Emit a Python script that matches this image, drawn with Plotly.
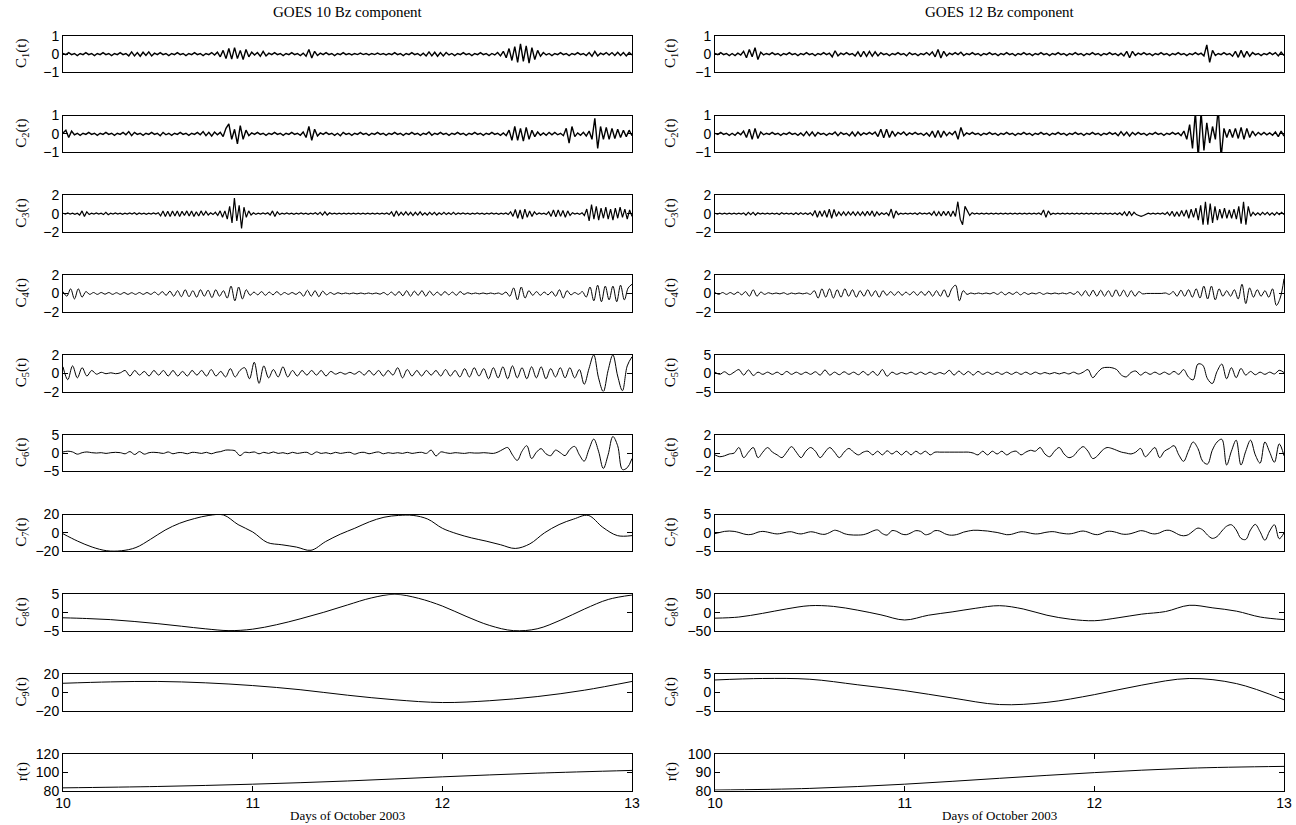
import numpy as np
import plotly.graph_objects as go

# ---------------- data ----------------
day_start, day_end = 10, 13
x_tick_vals = [10, 11, 12, 13]
col_titles = ["GOES 10 Bz component", "GOES 12 Bz component"]
x_title = "Days of October 2003"
row_labels = ["C<sub>1</sub>(t)", "C<sub>2</sub>(t)", "C<sub>3</sub>(t)", "C<sub>4</sub>(t)",
              "C<sub>5</sub>(t)", "C<sub>6</sub>(t)", "C<sub>7</sub>(t)", "C<sub>8</sub>(t)",
              "C<sub>9</sub>(t)", "r(t)"]
g10_yticks = [[-1, 0, 1], [-1, 0, 1], [-2, 0, 2], [-2, 0, 2], [-2, 0, 2],
              [-5, 0, 5], [-20, 0, 20], [-5, 0, 5], [-20, 0, 20], [80, 100, 120]]
g12_yticks = [[-1, 0, 1], [-1, 0, 1], [-2, 0, 2], [-2, 0, 2], [-5, 0, 5],
              [-2, 0, 2], [-5, 0, 5], [-50, 0, 50], [-5, 0, 5], [80, 90, 100]]

g10_c1 = [.03,-.03,.08,-.03,.03,-.08,.03,-.03,.08,-.03,
          .03,-.08,.03,-.03,.08,-.03,.03,-.08,.03,-.03,
          .08,-.03,.03,-.1,.12,-.1,.08,-.12,.1,-.08,
          .12,-.1,.05,-.03,.08,-.03,.03,-.08,.03,-.03,
          .08,-.03,.03,-.08,.03,-.03,.08,-.03,.03,-.08,
          .03,-.03,.08,-.05,.1,-.15,.2,-.25,.3,-.28,
          .35,-.25,.2,-.3,.25,-.15,.1,-.05,.08,-.12,
          .15,-.1,.05,-.03,.08,-.03,.03,-.08,.03,-.03,
          .08,-.03,.03,-.08,.05,-.12,.25,-.22,.15,-.08,
          .05,-.03,.08,-.03,.03,-.08,.03,-.03,.08,-.03,
          .03,-.05,.03,-.03,.05,-.03,.03,-.05,.03,-.03,
          .05,-.03,.03,-.05,.03,-.03,.08,-.03,.03,-.08,
          .03,-.03,.08,-.03,.03,-.08,.05,-.1,.12,-.1,
          .1,-.12,.08,-.1,.08,-.05,.03,-.08,.03,-.03,
          .08,-.03,.03,-.08,.03,-.03,.08,-.03,.03,-.08,
          .03,-.05,.08,-.1,.15,-.2,.3,-.35,.4,-.45,
          .55,-.4,.45,-.5,.35,-.3,.2,-.12,.08,-.05,
          .03,-.08,.03,-.03,.08,-.03,.03,-.08,.03,-.03,
          .08,-.03,.03,-.08,.08,-.12,.15,-.1,.05,-.03,
          .08,-.05,.08,-.08,.1,-.08,.08,-.1,.08,-.05]

g10_c2 = [.05,.2,-.2,.15,-.05,.03,-.08,.03,-.03,.08,
          -.03,.03,-.08,.03,-.03,.08,-.03,.03,-.08,.03,
          -.03,.08,-.05,.12,-.1,.08,-.03,.03,-.08,.03,
          -.03,.08,-.03,.03,-.1,.08,-.05,.03,-.08,.03,
          -.03,.08,-.03,.03,-.08,.03,-.03,.08,-.05,.12,
          -.1,.08,-.12,.1,-.05,.08,-.15,.3,.55,-.3,
          .25,-.55,.45,-.3,.2,-.1,.05,-.03,.08,-.03,
          .03,-.08,.03,-.03,.08,-.03,.03,-.08,.03,-.03,
          .08,-.03,.03,-.08,.1,-.2,.4,-.35,.25,-.12,
          .05,-.03,.08,-.03,.03,-.08,.03,-.1,.08,-.03,
          .03,-.08,.03,-.03,.08,-.03,.03,-.08,.03,-.03,
          .08,-.03,.03,-.08,.03,-.03,.08,-.03,.03,-.08,
          .03,-.03,.08,-.03,.03,-.08,.03,-.03,.1,-.08,
          .03,-.03,.08,-.03,.03,-.08,.03,-.03,.08,-.03,
          .03,-.08,.03,-.03,.08,-.03,.03,-.08,.03,-.03,
          .08,-.03,.03,-.08,.05,-.1,.2,-.35,.4,-.35,
          .3,-.4,.35,-.3,.2,-.15,.1,-.08,.05,-.08,
          .08,-.05,.08,-.05,.03,-.1,.3,-.5,.4,-.15,
          .05,-.08,.08,-.12,.15,-.3,.85,-.8,.4,-.3,
          .35,-.3,.3,-.25,.25,-.2,.2,-.15,.2,-.1]

g10_c3 = [.05,-.05,.08,-.05,.05,-.08,.05,-.15,.3,-.3,
          .2,-.1,.05,-.05,.08,-.05,.05,-.1,.15,-.12,
          .05,-.05,.08,-.05,.05,-.08,.05,-.05,.08,-.05,
          .1,-.1,.08,-.05,.05,-.08,.05,-.05,.08,-.05,
          .1,-.25,.3,-.3,.25,-.3,.3,-.25,.3,-.3,
          .25,-.2,.3,-.25,.3,-.3,.2,-.25,.3,-.2,
          .25,-.15,.1,-.1,.15,-.2,.3,-.4,.3,-.6,
          .8,-1.0,1.7,-.8,.9,-1.6,.7,-.4,.3,-.15,
          .1,-.08,.05,-.05,.08,-.05,.1,-.15,.3,-.3,
          .2,-.1,.05,-.05,.08,-.05,.05,-.08,.05,-.05,
          .08,-.05,.05,-.08,.05,-.05,.1,-.1,.15,-.15,
          .2,-.15,.1,-.05,.05,-.05,.05,-.05,.05,-.05,
          .05,-.05,.05,-.05,.05,-.05,.05,-.05,.05,-.05,
          .05,-.05,.05,-.05,.05,-.05,.08,-.1,.2,-.3,
          .3,-.2,.15,-.15,.2,-.15,.15,-.2,.15,-.15,
          .2,-.15,.1,-.15,.15,-.1,.15,-.15,.1,-.1,
          .15,-.1,.1,-.1,.15,-.1,.08,-.05,.08,-.05,
          .05,-.08,.05,-.05,.08,-.05,.05,-.08,.05,-.05,
          .08,-.05,.05,-.08,.05,-.05,.08,-.1,.2,-.3,
          .45,-.5,.4,-.6,.5,-.4,.3,-.3,.2,-.1,
          .08,-.05,.05,-.1,.2,-.3,.4,-.35,.4,-.3,
          .35,-.4,.3,-.2,.1,-.05,.05,-.08,.1,-.2,
          .5,-.8,1.0,-.6,.8,-.7,.6,-.5,.7,-.6,
          .5,-.7,.6,-.5,.7,-.4,.5,-.6,.4,-.3]

g10_c4 = [.2,-.3,.5,-.6,.5,-.4,.2,-.1,.1,-.1,
          .1,-.08,.1,-.1,.08,-.1,.1,-.1,.08,-.1,
          .1,-.1,.1,-.1,.15,-.15,.2,-.2,.25,-.3,
          .3,-.35,.4,-.35,.3,-.4,.4,-.3,.35,-.45,
          .4,-.3,.3,-.5,.8,-.8,.7,-.6,.4,-.2,
          .15,-.15,.2,-.2,.15,-.15,.2,-.15,.1,-.1,
          .1,-.1,.15,-.3,.35,-.3,.3,-.35,.25,-.15,
          .1,-.1,.08,-.05,.05,-.05,.05,-.05,.05,-.05,
          .05,-.05,.05,-.08,.1,-.15,.15,-.2,.2,-.25,
          .3,-.3,.25,-.2,.3,-.3,.25,-.2,.15,-.2,
          .2,-.15,.15,-.2,.2,-.1,.08,-.05,.05,-.05,
          .05,-.05,.05,-.05,.05,-.1,.15,-.3,.6,-.7,
          .7,-.5,.3,-.2,.2,-.2,.15,-.15,.2,-.3,
          .4,-.5,.3,-.15,.1,-.1,.2,-.4,.7,-.8,
          .9,-.9,.8,-.7,.8,-.9,.9,-.7,.6,1.0]

g10_c5 = [.7,-.7,.8,-.5,.6,-.3,.3,-.1,.1,-.05,
          .05,-.05,.05,.3,-.3,.3,-.2,.2,-.3,.3,
          -.2,.3,-.3,.3,-.3,.2,-.3,.3,-.2,.3,
          -.3,.4,-.3,.2,-.4,.5,-.4,.3,.6,-.6,
          1.2,-1.1,.8,-.5,.4,-.4,.7,-.4,.3,-.3,
          .3,-.2,.3,-.2,.3,-.3,.2,-.1,.1,-.1,
          .1,-.1,.2,-.2,.3,-.2,.3,-.3,.3,-.2,
          .6,-.5,.4,-.3,.3,-.3,.3,-.2,.3,-.3,
          .4,-.3,.3,-.4,.5,-.4,.6,-.3,.5,-.6,
          .6,-.5,.7,-.6,.8,-.5,.6,-.6,.7,-.5,
          .7,-.6,.5,-.4,.6,-.5,.6,-.5,.4,-1.2,
          .5,2.0,-.5,-2.0,.3,2.0,-.3,-1.9,.8,1.8]

g10_c6 = [.3,.5,.3,-.3,.1,.3,.1,0,.1,-.1,
          .1,.2,.1,-.2,.4,-.4,.4,-.3,.1,.2,
          .1,-.1,.3,-.2,.1,.1,-.2,.2,.1,-.1,
          .2,-.2,.2,.4,.8,.8,.6,-.7,.2,.1,
          .3,-.2,.2,-.1,.3,-.1,.1,-.2,.2,-.1,
          .1,.2,-.4,.3,-.1,.1,-.2,.2,-.1,.1,
          .2,-.3,.1,.2,-.2,.1,.3,-.2,.1,-.1,
          .1,-.1,.2,-.1,.1,.2,-.1,.8,-.8,.3,
          .1,-.1,.1,0,-.1,.1,0,0,.1,0,
          -.1,.3,1.0,1.5,-.5,-2.0,.5,2.0,-1.5,.2,
          1.2,-.2,-.7,.8,.1,-.7,1.0,1.8,-.5,-2.2,
          1.0,3.8,.5,-4.2,-.5,4.5,2.0,-4.5,-4.0,-1.5]

g10_c7 = [-1, -9, -15.5, -19.5, -19.5, -16, -7, 3, 10.5, 15.5,
          19, 19.5, 9, 1, -10.5, -13, -15.5, -19, -9.5, -1.5,
          5, 12, 17, 19, 19, 15, 5, -1, -5.5, -9,
          -13, -17, -12, 0, 9, 15, 19, 6, -3, -3]

g10_c8 = [-1.4, -1.6, -1.9, -2.4, -3.0, -3.7, -4.4, -4.9, -4.5, -3.3,
          -1.7, 0.1, 2.1, 4.0, 5.0, 3.9, 1.8, -1.0, -3.5, -4.9,
          -4.4, -2.0, 1.0, 3.6, 4.8]

g10_c9 = [10, 11.5, 12, 10.5, 7.5, 3, -3, -8, -11, -9, -4.5, 2.5, 12]

g10_r = [83, 84.5, 87, 90.5, 95, 99, 102]

g12_c1 = [.03,-.03,.08,-.03,.03,-.08,.03,-.08,.05,-.05,
          .15,-.2,.25,-.15,.35,-.3,.1,-.05,.03,-.03,
          .08,-.03,.03,-.08,.03,-.03,.08,-.03,.03,-.08,
          .03,-.03,.08,-.03,.03,-.08,.03,-.03,.08,-.03,
          .05,-.15,.18,-.1,.05,-.03,.08,-.03,.03,-.1,
          .12,-.15,.15,-.12,.15,-.12,.12,-.1,.08,-.03,
          .03,-.08,.03,-.03,.08,-.03,.03,-.1,.08,-.03,
          .03,-.08,.03,-.03,.08,-.05,.12,-.15,.25,-.22,
          .15,-.1,.05,-.03,.08,-.03,.1,-.08,.03,-.03,
          .08,-.03,.03,-.08,.03,-.03,.08,-.03,.03,-.08,
          .03,-.03,.08,-.03,.03,-.08,.03,-.03,.08,-.03,
          .03,-.08,.03,-.03,.08,-.03,.03,-.08,.03,-.03,
          .08,-.03,.03,-.08,.03,-.03,.08,-.03,.03,-.08,
          .03,-.03,.08,-.03,.03,-.08,.03,-.03,.08,-.03,
          .03,-.08,.05,-.1,.15,-.2,.15,-.08,.05,-.03,
          .08,-.03,.03,-.08,.03,-.03,.08,-.03,.03,-.08,
          .03,-.03,.08,-.03,.03,-.08,.03,-.03,.08,-.03,
          .05,-.1,.5,-.45,.2,-.08,.03,-.03,.08,-.03,
          .03,-.12,.15,-.18,.2,-.18,.15,-.12,.08,-.03,
          .03,-.08,.03,-.03,.08,-.03,.08,-.1,.1,-.08]

g12_c2 = [.03,-.03,.08,-.03,.03,-.08,.03,-.08,.08,-.05,
          .15,-.2,.25,-.3,.3,-.25,.1,-.05,.03,-.03,
          .08,-.03,.03,-.08,.03,-.03,.08,-.03,.03,-.08,
          .05,-.1,.12,-.1,.1,-.12,.08,-.03,.03,-.08,
          .03,-.03,.1,-.1,.08,-.03,.03,-.1,.1,-.12,
          .1,-.08,.05,-.03,.08,-.03,.1,-.15,.25,-.22,
          .25,-.2,.15,-.12,.08,-.03,.1,-.08,.05,-.03,
          .08,-.03,.03,-.08,.05,-.12,.15,-.2,.18,-.2,
          .15,-.1,.08,-.05,.15,-.3,.35,-.1,.05,-.03,
          .08,-.03,.03,-.08,.03,-.03,.08,-.03,.03,-.08,
          .03,-.03,.08,-.03,.03,-.08,.03,-.03,.08,-.03,
          .03,-.08,.03,-.03,.08,-.03,.03,-.08,.03,-.03,
          .08,-.03,.03,-.08,.03,-.03,.08,-.03,.03,-.08,
          .03,-.03,.08,-.03,.03,-.08,.03,-.03,.08,-.03,
          .05,-.1,.12,-.08,.1,-.12,.08,-.05,.08,-.03,
          .03,-.08,.03,-.03,.08,-.03,.03,-.08,.03,-.03,
          .08,-.03,.05,-.1,.15,-.3,.5,-.8,1.2,-1.3,
          1.2,-.9,.6,-.5,.4,-.3,1.4,-1.3,.3,-.2,
          .25,-.2,.3,-.25,.35,-.3,.3,-.2,.15,-.1,
          .08,-.05,.08,-.05,.05,-.08,.1,-.15,.15,-.12]

g12_c3 = [.05,-.05,.05,-.05,.05,-.05,.05,-.05,.05,-.05,
          .05,-.05,.08,-.15,.15,-.1,.15,-.15,.1,-.05,
          .05,-.05,.05,-.05,.05,-.05,.05,-.1,.1,-.05,
          .05,-.05,.05,-.1,.1,-.1,.1,-.08,.08,-.1,
          .1,-.2,.35,-.4,.3,-.3,.35,-.4,.5,-.5,
          .45,-.3,.2,-.2,.2,-.2,.2,-.15,.2,-.2,
          .2,-.2,.2,-.2,.25,-.2,.3,-.3,.2,-.15,
          .1,-.1,.1,-.2,.5,-.5,.3,-.1,.05,-.05,
          .05,-.05,.05,-.05,.08,-.1,.1,-.05,.05,-.05,
          .1,-.15,.25,-.25,.2,-.25,.25,-.2,.25,-.3,
          .3,-.3,1.3,-.6,-1.2,.8,.3,-.2,.1,-.05,
          .05,-.05,.05,-.05,.05,-.05,.05,-.05,.05,-.05,
          .05,-.05,.05,-.05,.05,-.05,.05,-.05,.05,-.05,
          .05,-.05,.05,-.05,.05,-.05,.08,-.1,.4,-.4,
          .3,-.1,.05,-.05,.05,-.05,.05,-.05,.05,-.05,
          .05,-.05,.05,-.05,.05,-.05,.05,-.05,.05,-.05,
          .05,-.05,.05,-.05,.05,-.05,.05,-.08,.08,-.1,
          .1,-.15,.2,-.25,.25,-.2,.15,-.1,-.2,-.3,
          -.2,-.05,.05,-.05,.05,-.05,.05,-.05,.08,-.1,
          .15,-.2,.25,-.3,.2,-.3,.35,-.3,.4,-.5,
          .5,-.4,.6,-.7,.9,-1.2,1.3,-1.2,1.1,-1.0,
          .8,-.7,.5,-.5,.6,-.5,.4,-.5,.5,-.6,
          .8,-1.1,1.3,-1.2,.8,-.3,.15,-.15,.1,-.15,
          .15,-.1,.15,-.15,.1,-.15,.15,-.1,.15,-.1]

g12_c4 = [.1,-.1,.1,-.1,.1,-.1,.15,-.15,.2,-.3,
          .4,-.3,.15,-.1,.08,-.05,.05,-.05,.08,-.1,
          .05,-.05,.05,-.05,.05,-.1,.3,-.5,.5,-.4,
          .5,-.5,.4,-.4,.5,-.3,.4,-.4,.3,-.3,
          .4,-.3,.3,-.4,.3,-.2,.2,-.2,.2,-.2,
          .15,-.15,.2,-.2,.2,-.2,.25,-.3,.3,-.3,
          .4,-.4,.5,.9,-.8,.3,-.1,.05,-.05,.05,
          -.05,.05,-.05,.1,-.1,.15,-.15,.1,-.1,.15,
          -.15,.1,-.1,.05,-.05,.1,-.1,.05,-.05,.05,
          -.05,.05,-.05,.1,-.1,.2,-.25,.3,-.3,.35,
          -.3,.35,-.3,.3,-.35,.4,-.3,.35,-.35,.3,
          -.3,.2,-.05,0,0,0,0,0,.05,-.1,
          .2,-.3,.35,-.3,.4,-.4,.5,-.5,.8,-.6,
          .8,-.7,.5,-.3,.3,-.3,.4,-.6,1.0,-1.1,
          .6,-.4,.4,-.3,.3,-.4,.5,-1.3,-.5,1.6]

g12_c5 = [.3,-.3,.4,-.4,.3,1.0,-.5,.9,-.6,.3,
          -.3,.3,-.3,.3,-.4,.5,-.3,.3,-.3,.3,
          -.3,.4,-.5,.9,-.5,.3,-.4,.4,-.3,.3,
          -.4,.5,-.5,.5,-.6,1.0,-.8,.3,-.3,.2,
          -.2,.3,-.3,.3,-.3,.3,-.3,.2,-.2,.8,
          -.5,.6,-.4,.5,-.5,.5,-.3,.3,-.3,.3,
          -.3,.3,-.3,.3,-.3,.3,-.3,.3,-.2,.2,
          -.2,.2,-.2,.2,-.2,.3,-.2,.3,1.0,-1.2,
          .2,1.4,1.6,1.5,1.0,-.5,-1.0,.2,.6,-.5,
          .3,-.3,.3,-.3,.3,-.3,.5,-.3,1.0,-1.0,
          -1.8,2.5,2.2,-1.5,-2.8,.5,2.5,-1.5,1.5,-1.2,
          1.3,-.5,.5,-.4,.3,-.3,.3,-.2,.8,.2]

g12_c6 = [-.2,-.4,-.3,-.1,0,.6,-.5,.1,.6,-.5,
          .1,.6,.1,-.2,-.5,.1,.7,.1,-.5,.2,
          .6,.2,-.5,.1,.6,.1,-.5,.1,.5,.1,
          -.2,.1,.2,-.2,.2,-.2,.25,-.1,.2,-.2,
          .2,-.2,.2,-.1,.2,-.2,.1,.1,.1,.1,
          .1,.1,.1,.1,0,-.2,.2,-.2,.2,-.1,
          .2,-.2,.1,.2,-.2,.1,.3,.2,.6,-.1,
          -.4,.2,.6,-.1,-.5,-.3,.3,.7,.2,-.6,
          -.3,.3,.6,.5,.3,.1,0,-.1,.1,.5,
          -.4,.1,.6,-.5,.2,.5,.8,-.2,-.9,.2,
          1.2,.5,-.9,-1.2,.3,1.2,1.5,-1.3,.2,1.4,
          -1.3,.2,1.4,-.2,-1.1,1.2,.1,-1.0,1.0,-.3]

g12_c7 = [-.2,.1,.4,.5,.4,.1,-.3,-.5,-.3,.2,
          .4,.2,-.1,-.3,-.1,.2,.3,-.1,-.3,0,
          .3,.1,-.3,-.4,.1,.7,.4,-.2,-.5,-.6,
          -.6,-.5,-.1,.5,.8,-.2,-.6,.6,.4,-.3,
          -.5,0,.6,.4,-.5,-.2,.6,.5,-.2,-.6,
          -.6,-.3,.2,.5,.7,.7,.6,.5,.3,.1,
          -.2,-.5,-.4,0,.3,.2,-.1,-.3,-.2,.1,
          .3,.3,0,-.2,-.3,-.1,.3,.5,.2,-.3,
          -.5,-.1,.4,.4,.1,-.3,-.4,-.2,.2,.6,
          .4,-.1,-.3,0,.6,.7,.2,-.5,-.8,-.5,
          .5,1.3,.8,-.6,-1.5,-1.0,.5,1.8,2.2,.8,
          -1.5,-1.8,.8,2.3,.3,-2.0,.5,2.2,-1.6,0]

g12_c8 = [-15, -12, -2, 10, 19, 17, 7, -6, -20, -7,
          2, 12, 19, 10, -7, -18, -22, -14, -4, 3,
          20, 13, 4, -12, -19]

g12_c9 = [3.4, 3.8, 3.6, 2.1, .5, -1.5, -3.3, -2.7, -.6, 2.0, 3.8, 2.4, -2.0]

g12_r = [80.3, 81.2, 83.5, 86.7, 89.8, 92.2, 93.2]

g10_series = [g10_c1, g10_c2, g10_c3, g10_c4, g10_c5, g10_c6, g10_c7, g10_c8, g10_c9, g10_r]
g12_series = [g12_c1, g12_c2, g12_c3, g12_c4, g12_c5, g12_c6, g12_c7, g12_c8, g12_c9, g12_r]

# ---------------- layout geometry (pixels) ----------------
W, H = 1296, 825
col_px = [(63, 632), (715, 1284)]
label_px = [22, 671]
top0, pitch, box_h = 35.7, 79.8, 36.7
title_y, xtitle_y = 12, 815
serif = "Liberation Serif, Times New Roman, serif"
sans = "Liberation Sans, Arial, Helvetica, sans-serif"

fig = go.Figure()
layout = dict(width=W, height=H, margin=dict(l=0, r=0, t=0, b=0, autoexpand=False),
              paper_bgcolor="white", plot_bgcolor="white", showlegend=False)
annotations = []

for c, (series_list, yticks) in enumerate([(g10_series, g10_yticks), (g12_series, g12_yticks)]):
    x0, x1 = col_px[c]
    for k in range(10):
        n = k * 2 + c + 1
        vals = series_list[k]
        xs = np.linspace(day_start, day_end, len(vals))
        shape = "linear" if k < 3 else "spline"
        lw = 1.4 if k < 2 else (1.2 if k == 2 else 1.0)
        fig.add_trace(go.Scatter(x=xs, y=vals, mode="lines",
                                 line=dict(color="black", width=lw, shape=shape),
                                 xaxis=f"x{n}", yaxis=f"y{n}", hoverinfo="skip"))
        top = top0 + pitch * k
        ydom = [1 - (top + box_h) / H, 1 - top / H]
        bottom_row = (k == 9)
        layout[f"xaxis{n}"] = dict(
            domain=[x0 / W, x1 / W], range=[day_start, day_end], anchor=f"y{n}",
            automargin=False,
            showline=True, linecolor="black", linewidth=1, mirror="ticks" if bottom_row else True,
            showgrid=False, zeroline=False,
            ticks="inside" if bottom_row else "", ticklen=5, tickcolor="black",
            tickvals=x_tick_vals, showticklabels=bottom_row,
            tickfont=dict(family=sans, size=14, color="black"))
        yt = yticks[k]
        layout[f"yaxis{n}"] = dict(
            domain=ydom, range=[yt[0], yt[-1]], anchor=f"x{n}",
            automargin=False,
            showline=True, linecolor="black", linewidth=1, mirror="ticks",
            showgrid=False, zeroline=False, ticks="inside", ticklen=5, tickcolor="black",
            tickvals=yt, tickfont=dict(family=sans, size=14, color="black"))
        annotations.append(dict(text=row_labels[k], x=label_px[c] / W, y=(ydom[0] + ydom[1]) / 2,
                                xref="paper", yref="paper", showarrow=False, textangle=-90,
                                xanchor="center", yanchor="middle",
                                font=dict(family=serif, size=15, color="black")))
    annotations.append(dict(text=col_titles[c], x=(x0 + x1) / 2 / W, y=1 - title_y / H,
                            xref="paper", yref="paper", showarrow=False,
                            xanchor="center", yanchor="middle",
                            font=dict(family=serif, size=15, color="black")))
    annotations.append(dict(text=x_title, x=(x0 + x1) / 2 / W, y=1 - xtitle_y / H,
                            xref="paper", yref="paper", showarrow=False,
                            xanchor="center", yanchor="middle",
                            font=dict(family=serif, size=13, color="black")))

layout["annotations"] = annotations
fig.update_layout(**layout)
fig.write_html("out.html", config={"displayModeBar": False},
               post_script="document.body.style.margin='0';document.body.style.overflow='hidden';")
